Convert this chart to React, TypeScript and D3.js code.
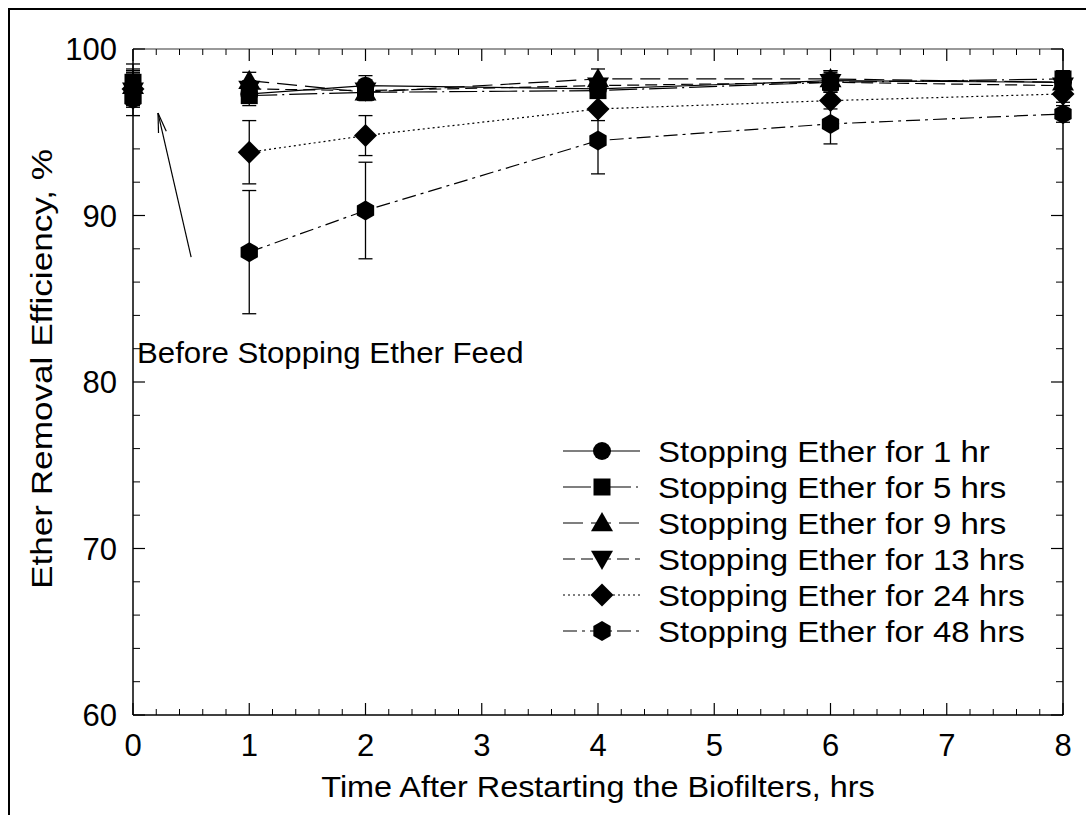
import React from "react";
import * as d3 from "d3";

const times = [0, 1, 2, 4, 6, 8];
const seriesNames = [
  "Stopping Ether for 1 hr",
  "Stopping Ether for 5 hrs",
  "Stopping Ether for 9 hrs",
  "Stopping Ether for 13 hrs",
  "Stopping Ether for 24 hrs",
  "Stopping Ether for 48 hrs",
];
const values1 = [97.7, 97.3, 97.8, 97.6, 98.1, 98.0];
const errors1 = [1.0, 0.5, 0.6, 0.5, 0.6, 0.4];
const values5 = [98.0, 97.2, 97.4, 97.5, 98.0, 98.2];
const errors5 = [1.1, 0.6, 0.5, 0.4, 0.6, 0.5];
const values9 = [97.8, 98.1, 97.4, 98.2, 98.2, 98.0];
const errors9 = [1.0, 0.5, 0.4, 0.6, 0.5, 0.4];
const values13 = [97.5, 97.6, 97.5, 97.8, 98.0, 97.8];
const errors13 = [1.0, 0.5, 0.5, 0.4, 0.5, 0.4];
const values24 = [97.6, 93.8, 94.8, 96.4, 96.9, 97.3];
const errors24 = [1.0, 1.9, 1.2, 0.7, 0.5, 0.5];
const values48 = [97.0, 87.8, 90.3, 94.5, 95.5, 96.1];
const errors48 = [1.0, 3.7, 2.9, 2.0, 1.2, 0.5];

const xTicks = [0, 1, 2, 3, 4, 5, 6, 7, 8];
const yTicks = [60, 70, 80, 90, 100];
const annotationText = "Before Stopping Ether Feed";
const xTitle = "Time After Restarting the Biofilters, hrs";
const yTitle = "Ether Removal Efficiency, %";

const markers = ["circle", "square", "triangle", "triangleDown", "diamond", "hexagon"];
const dashes = ["none", "28,5,2,5", "20,8", "12,6", "2,3", "14,5,3,5"];

const FONT = "'Liberation Sans', Arial, sans-serif";
const SX = 1.08;

function markerPath(type: string): string {
  switch (type) {
    case "circle":
      return d3.symbol(d3.symbolCircle, Math.PI * 9 * 9)()!;
    case "square":
      return d3.symbol(d3.symbolSquare, 17 * 17)()!;
    case "triangle": {
      const s = 11;
      return `M0,${-s}L${s},${s * 0.75}L${-s},${s * 0.75}Z`;
    }
    case "triangleDown": {
      const s = 11;
      return `M0,${s}L${s},${-s * 0.75}L${-s},${-s * 0.75}Z`;
    }
    case "diamond": {
      const s = 11.5;
      return `M0,${-s}L${s},0L0,${s}L${-s},0Z`;
    }
    case "hexagon": {
      const r = 10;
      const pts = d3.range(6).map((i) => {
        const a = (Math.PI / 3) * i - Math.PI / 2;
        return [r * Math.cos(a), r * Math.sin(a)];
      });
      return "M" + pts.map((p) => p.join(",")).join("L") + "Z";
    }
  }
  return "";
}

function Marker({ type, x, y }: { type: string; x: number; y: number }) {
  return <path d={markerPath(type)} transform={`translate(${x},${y})`} fill="#000" />;
}

function SText({ x, y, size, anchor, children, sx }: any) {
  return (
    <text
      transform={`translate(${x},${y}) scale(${sx ?? SX},1)`}
      fontFamily={FONT}
      fontSize={size}
      textAnchor={anchor || "start"}
      fill="#000"
    >
      {children}
    </text>
  );
}

export default function App() {
  const left = 133, right = 1063, top = 49, bottom = 715;
  const x = d3.scaleLinear().domain([0, 8]).range([left, right]);
  const y = d3.scaleLinear().domain([60, 100]).range([bottom, top]);

  const allValues = [values1, values5, values9, values13, values24, values48];
  const allErrors = [errors1, errors5, errors9, errors13, errors24, errors48];

  const line = d3
    .line<[number, number]>()
    .x((d) => x(d[0]))
    .y((d) => y(d[1]));

  const xMinor = d3.range(0, 8.0001, 0.2).filter((v) => Math.abs(v - Math.round(v)) > 1e-6);
  const yMinor = d3.range(60, 100.001, 2).filter((v) => v % 10 !== 0);

  const legendX0 = 563, legendX1 = 640, legendMark = 602, legendText = 658;
  const legendY0 = 451, legendDy = 36;

  // arrow
  const ax0 = x(0.5), ay0 = y(87.5), ax1 = x(0.215), ay1 = y(96.15);
  const ang = Math.atan2(ay0 - ay1, ax0 - ax1);
  const hl = 20, ha = 0.2;

  return (
    <svg
      width={1086}
      height={815}
      style={{ position: "absolute", left: 0, top: 0, background: "#fff" }}
    >
      <rect x={0} y={0} width={1086} height={815} fill="#fff" />
      <rect x={9} y={9} width={1200} height={1000} fill="none" stroke="#000" strokeWidth={2} />

      {/* series lines (after restart only) */}
      {allValues.map((vals, si) => (
        <path
          key={"l" + si}
          d={line(times.slice(1).map((t, i) => [t, vals[i + 1]]) as [number, number][])!}
          fill="none"
          stroke="#000"
          strokeWidth={1.2}
          strokeDasharray={dashes[si] === "none" ? undefined : dashes[si]}
        />
      ))}

      {/* error bars */}
      {allValues.map((vals, si) =>
        vals.map((v, i) => {
          const e = allErrors[si][i];
          const cx = x(times[i]);
          return (
            <g key={"e" + si + "-" + i} stroke="#000" strokeWidth={1.3}>
              <line x1={cx} x2={cx} y1={y(v + e)} y2={y(v - e)} />
              <line x1={cx - 7} x2={cx + 7} y1={y(v + e)} y2={y(v + e)} />
              <line x1={cx - 7} x2={cx + 7} y1={y(v - e)} y2={y(v - e)} />
            </g>
          );
        })
      )}

      {/* markers */}
      {allValues.map((vals, si) =>
        vals.map((v, i) => <Marker key={"m" + si + "-" + i} type={markers[si]} x={x(times[i])} y={y(v)} />)
      )}

      {/* axes frame */}
      <line x1={left} x2={right} y1={top} y2={top} stroke="#777" strokeWidth={1.5} />
      <line x1={left} x2={right} y1={bottom} y2={bottom} stroke="#000" strokeWidth={1.5} />
      <line x1={left} x2={left} y1={top} y2={bottom} stroke="#000" strokeWidth={1.5} />
      <line x1={right} x2={right} y1={top} y2={bottom} stroke="#000" strokeWidth={1.5} />

      {/* x ticks */}
      {xTicks.map((t) => (
        <g key={"xt" + t} stroke="#000" strokeWidth={1.2}>
          <line x1={x(t)} x2={x(t)} y1={bottom} y2={bottom - 12} />
          <line x1={x(t)} x2={x(t)} y1={top} y2={top + 12} />
        </g>
      ))}
      {xMinor.map((t, i) => (
        <g key={"xm" + i} stroke="#000" strokeWidth={1}>
          <line x1={x(t)} x2={x(t)} y1={bottom} y2={bottom - 6} />
          <line x1={x(t)} x2={x(t)} y1={top} y2={top + 6} />
        </g>
      ))}
      {yTicks.map((t) => (
        <g key={"yt" + t} stroke="#000" strokeWidth={1.2}>
          <line x1={left} x2={left + 12} y1={y(t)} y2={y(t)} />
          <line x1={right} x2={right - 12} y1={y(t)} y2={y(t)} />
        </g>
      ))}
      {yMinor.map((t, i) => (
        <g key={"ym" + i} stroke="#000" strokeWidth={1}>
          <line x1={left} x2={left + 7} y1={y(t)} y2={y(t)} />
          <line x1={right} x2={right - 7} y1={y(t)} y2={y(t)} />
        </g>
      ))}

      {/* tick labels */}
      {xTicks.map((t) => (
        <SText key={"xl" + t} x={x(t)} y={756} size={31} anchor="middle" sx={1.0}>
          {t}
        </SText>
      ))}
      {yTicks.map((t) => (
        <SText key={"yl" + t} x={117} y={y(t) + 11} size={31} anchor="end" sx={1.0}>
          {t}
        </SText>
      ))}

      {/* axis titles */}
      <SText x={(left + right) / 2} y={797} size={30} anchor="middle">
        {xTitle}
      </SText>
      <text
        transform={`translate(52,${369}) rotate(-90)`}
        fontFamily={FONT}
        fontSize={30}
        textAnchor="middle"
        textLength={440}
        lengthAdjust="spacingAndGlyphs"
      >
        {yTitle}
      </text>

      {/* annotation */}
      <line x1={ax0} y1={ay0} x2={ax1} y2={ay1} stroke="#000" strokeWidth={1.2} />
      <line
        x1={ax1}
        y1={ay1}
        x2={ax1 + hl * Math.cos(ang - ha)}
        y2={ay1 + hl * Math.sin(ang - ha)}
        stroke="#000"
        strokeWidth={1.2}
      />
      <line
        x1={ax1}
        y1={ay1}
        x2={ax1 + hl * Math.cos(ang + ha)}
        y2={ay1 + hl * Math.sin(ang + ha)}
        stroke="#000"
        strokeWidth={1.2}
      />
      <SText x={137} y={363} size={30} sx={1.04}>
        {annotationText}
      </SText>

      {/* legend */}
      {seriesNames.map((name, si) => {
        const ly = legendY0 + si * legendDy;
        return (
          <g key={"lg" + si}>
            <line
              x1={legendX0}
              x2={legendX1}
              y1={ly}
              y2={ly}
              stroke="#000"
              strokeWidth={1.2}
              strokeDasharray={dashes[si] === "none" ? undefined : dashes[si]}
            />
            <Marker type={markers[si]} x={legendMark} y={ly} />
            <SText x={legendText} y={ly + 11} size={30} sx={1.1}>
              {name}
            </SText>
          </g>
        );
      })}
    </svg>
  );
}
